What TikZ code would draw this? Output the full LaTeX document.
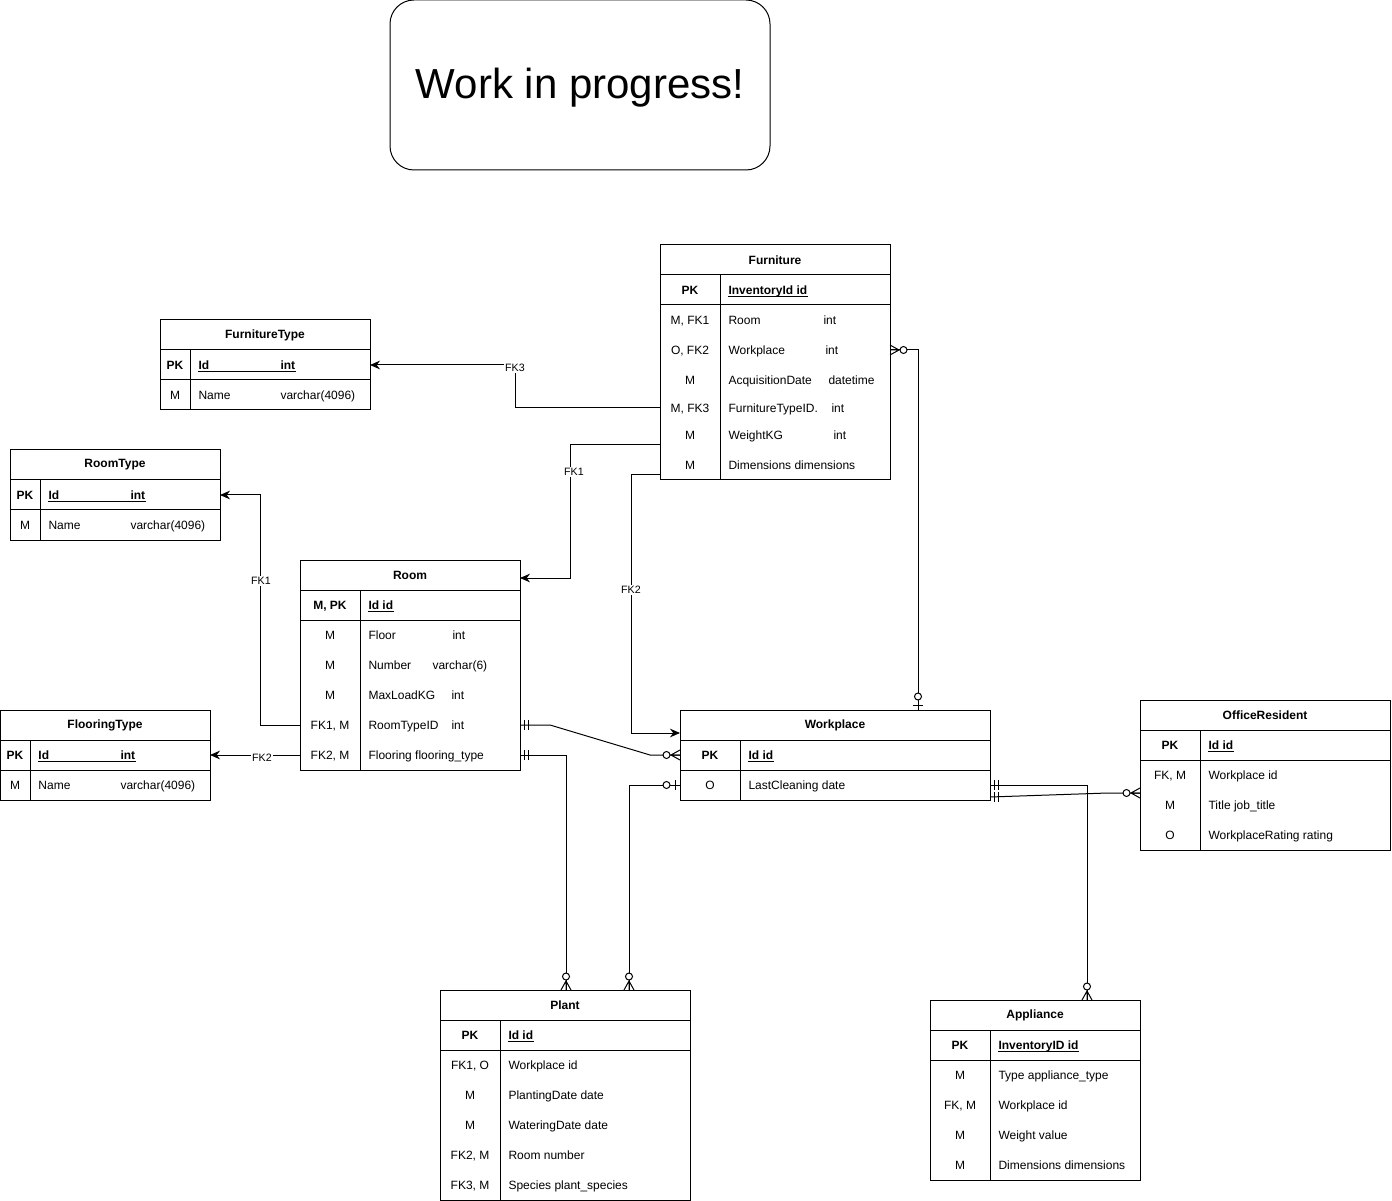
\documentclass[tikz,border=0pt]{standalone}
\usepackage{fontspec}
\setmainfont{Liberation Sans}
\usetikzlibrary{calc,arrows.meta}
\newcommand\fsz{\fontsize{9}{11}\selectfont}
\newcommand\ertab[7]{%
 \node[tbl, anchor=north west, minimum width=#4*0.75pt, minimum height=#5*0.75pt] (#1) at (#2,#3) {};
 \draw ($(#1.north west)+(0,30)$) -- ($(#1.north east)+(0,30)$);
 \draw ($(#1.north west)+(0,60)$) -- ($(#1.north east)+(0,60)$);
 \draw ($(#1.north west)+(#6,30)$) -- ($(#1.south west)+(#6,0)$);
 \node[ttl] (#1-t) at ($(#1.north)+(0,15)$) {#7};}
\newcommand\erow[8]{%
 \node[kt] (#1k) at (#2,#3) {#4};
 \node[ft] (#1f) at (#5,#3) {#6};
 \node[ft] (#1y) at (#7,#3) {#8};}
\newcommand\erowb[6]{%
 \node[kt] (#1k) at (#2,#3) {#4};
 \node[ft] (#1f) at (#5,#3) {#6};}
\newcommand\erpk[8]{%
 \node[kb] (#1k) at (#2,#3) {#4};
 \node[fb] (#1f) at (#5,#3) {#6};
 \node[fb] (#1y) at (#7,#3) {#8};
 \draw ($(#1f.south west)+(0,2)$) -- ($(#1y.south east)+(0,2)$);}
\newcommand\erpkb[6]{%
 \node[kb] (#1k) at (#2,#3) {#4};
 \node[fb] (#1f) at (#5,#3) {#6};
 \draw ($(#1f.south west)+(0,2)$) -- ($(#1f.south east)+(0,2)$);}
\newcommand\ermany[2]{\begin{scope}[shift={#1},rotate=#2]
 \draw (0,-5) -- (9,0) -- (0,5) (0,0) -- (9,0);
 \draw[fill=white] (13.5,0) circle[radius=3.5];
\end{scope}}
\newcommand\erzone[2]{\begin{scope}[shift={#1},rotate=#2]
 \draw (5,-5) -- (5,5);
 \draw[fill=white] (13.5,0) circle[radius=3.5];
\end{scope}}
\newcommand\erone[2]{\begin{scope}[shift={#1},rotate=#2]
 \draw (4,-5) -- (4,5) (8,-5) -- (8,5);
\end{scope}}
\begin{document}
\begin{tikzpicture}[x=0.75pt,y=-0.75pt,line width=0.75pt,
 tbl/.style={draw, inner sep=0pt, outer sep=0pt, fill=white},
 ttl/.style={font=\fsz\bfseries, inner sep=0pt},
 kt/.style={font=\fsz, inner sep=0pt, text height=6.5pt, text depth=0pt},
 kb/.style={kt, font=\fsz\bfseries},
 ft/.style={kt, anchor=west},
 fb/.style={ft, font=\fsz\bfseries},
 lbl/.style={font=\fontsize{8}{9}\selectfont, fill=white, inner sep=1pt},
 fk/.style={-{Stealth[length=7.5pt,width=6.5pt]}}]
\useasboundingbox (0,0) rectangle (1392,1201);

% title box
\node[draw, rounded corners=18pt, minimum width=285pt, minimum height=127.5pt, inner sep=0pt] (wip) at (580,85) {};
\node[font=\fontsize{31.5}{36}\selectfont, inner sep=0pt, anchor=base] (wip-t) at (580,99) {Work in progress!};

% FurnitureType
\ertab{ft}{160}{320}{210}{90}{30}{FurnitureType}
\erpk{ft-0}{175}{365}{PK}{198}{Id}{280}{int}
\erow{ft-1}{175}{395}{M}{198}{Name}{280}{varchar(4096)}

% RoomType
\ertab{rt}{10}{450}{210}{90}{30}{RoomType}
\erpk{rt-0}{25}{495}{PK}{48}{Id}{130}{int}
\erow{rt-1}{25}{525}{M}{48}{Name}{130}{varchar(4096)}

% FlooringType
\ertab{flt}{0}{710}{210}{90}{30}{FlooringType}
\erpk{flt-0}{15}{755}{PK}{38}{Id}{120}{int}
\erow{flt-1}{15}{785}{M}{38}{Name}{120}{varchar(4096)}

% Room
\ertab{room}{300}{560}{220}{210}{60}{Room}
\erpkb{room-0}{330}{605}{M, PK}{368}{Id id}
\erow{room-1}{330}{635}{M}{368}{Floor}{452}{int}
\erow{room-2}{330}{665}{M}{368}{Number}{432}{varchar(6)}
\erow{room-3}{330}{695}{M}{368}{MaxLoadKG}{451}{int}
\erow{room-4}{330}{725}{FK1, M}{368}{RoomTypeID}{451}{int}
\erowb{room-5}{330}{755}{FK2, M}{368}{Flooring flooring\_type}

% Furniture
\ertab{fur}{660}{245}{230}{235}{60}{Furniture}
\erpkb{fur-0}{690}{290}{PK}{728}{InventoryId id}
\erow{fur-1}{690}{320}{M, FK1}{728}{Room}{823}{int}
\erow{fur-2}{690}{350}{O, FK2}{728}{Workplace}{825}{int}
\erow{fur-3}{690}{380}{M}{728}{AcquisitionDate}{828}{datetime}
\erow{fur-4}{690}{408}{M, FK3}{728}{FurnitureTypeID.}{831}{int}
\erow{fur-5}{690}{435}{M}{728}{WeightKG}{833}{int}
\erowb{fur-6}{690}{465}{M}{728}{Dimensions dimensions}

% Workplace
\ertab{wp}{680}{710}{310}{90}{60}{Workplace}
\erpkb{wp-0}{710}{755}{PK}{748}{Id id}
\erowb{wp-1}{710}{785}{O}{748}{LastCleaning date}

% OfficeResident
\ertab{or}{1140}{700}{250}{150}{60}{OfficeResident}
\erpkb{or-0}{1170}{745}{PK}{1208}{Id id}
\erowb{or-1}{1170}{775}{FK, M}{1208}{Workplace id}
\erowb{or-2}{1170}{805}{M}{1208}{Title job\_title}
\erowb{or-3}{1170}{835}{O}{1208}{WorkplaceRating rating}

% Plant
\ertab{pl}{440}{990}{250}{210}{60}{Plant}
\erpkb{pl-0}{470}{1035}{PK}{508}{Id id}
\erowb{pl-1}{470}{1065}{FK1, O}{508}{Workplace id}
\erowb{pl-2}{470}{1095}{M}{508}{PlantingDate date}
\erowb{pl-3}{470}{1125}{M}{508}{WateringDate date}
\erowb{pl-4}{470}{1155}{FK2, M}{508}{Room number}
\erowb{pl-5}{470}{1185}{FK3, M}{508}{Species plant\_species}

% Appliance
\ertab{app}{930}{1000}{210}{180}{60}{Appliance}
\erpkb{app-0}{960}{1045}{PK}{998}{InventoryID id}
\erowb{app-1}{960}{1075}{M}{998}{Type appliance\_type}
\erowb{app-2}{960}{1105}{FK, M}{998}{Workplace id}
\erowb{app-3}{960}{1135}{M}{998}{Weight value}
\erowb{app-4}{960}{1165}{M}{998}{Dimensions dimensions}

% FK connectors with arrows
\draw[fk] (fur.west |- fur-4k) -- ++(-145,0) |- (ft.east |- ft-0k);
\draw[fk] ($(fur.west |- fur-5k)+(0,10)$) -- ++(-90,0) |- ($(room.east |- room-t)+(0,3)$);
\draw[fk] ($(fur.south west)+(0,-5)$) -- ++(-29,0) |- ($(wp.west |- wp-t)+(0,8)$);
\draw[fk] (room.west |- room-4k) -- ++(-40,0) |- (rt.east |- rt-0k);
\draw[fk] (room.west |- room-5k) -- (flt.east |- flt-0k);

% ER connectors
\draw (fur.east |- fur-2k) -| ($(wp.north west)+(238,0)$);
\draw (room.east |- room-4k) -- ++(30,0) -- ($(wp.west |- wp-0k)+(-30,0)$) -- (wp.west |- wp-0k);
\draw (room.east |- room-5k) -| ($(pl.north west)+(126,0)$);
\draw (wp.west |- wp-1k) -| ($(pl.north west)+(189,0)$);
\draw (wp.east |- wp-1k) -| ($(app.north west)+(157,0)$);
\draw ($(wp.south east)+(0,-3)$) -- ($(or.west)+(-32,18)$) -- ($(or.west)+(0,18)$);

% ER markers
\ermany{(fur.east |- fur-2k)}{0}
\erzone{($(wp.north west)+(238,0)$)}{90}
\erone{(room.east |- room-4k)}{0}
\ermany{(wp.west |- wp-0k)}{180}
\erone{(room.east |- room-5k)}{0}
\ermany{($(pl.north west)+(126,0)$)}{90}
\erzone{(wp.west |- wp-1k)}{180}
\ermany{($(pl.north west)+(189,0)$)}{90}
\erone{(wp.east |- wp-1k)}{0}
\ermany{($(app.north west)+(157,0)$)}{90}
\erone{($(wp.south east)+(0,-3)$)}{0}
\ermany{($(or.west)+(0,18)$)}{180}

% connector labels
\node[lbl] (l-fk3) at (515,368) {FK3};
\node[lbl] (l-fk1a) at (574,472) {FK1};
\node[lbl] (l-fk2a) at (631,590) {FK2};
\node[lbl] (l-fk1b) at (261,581) {FK1};
\node[lbl] (l-fk2b) at (262,758) {FK2};
\end{tikzpicture}
\end{document}
